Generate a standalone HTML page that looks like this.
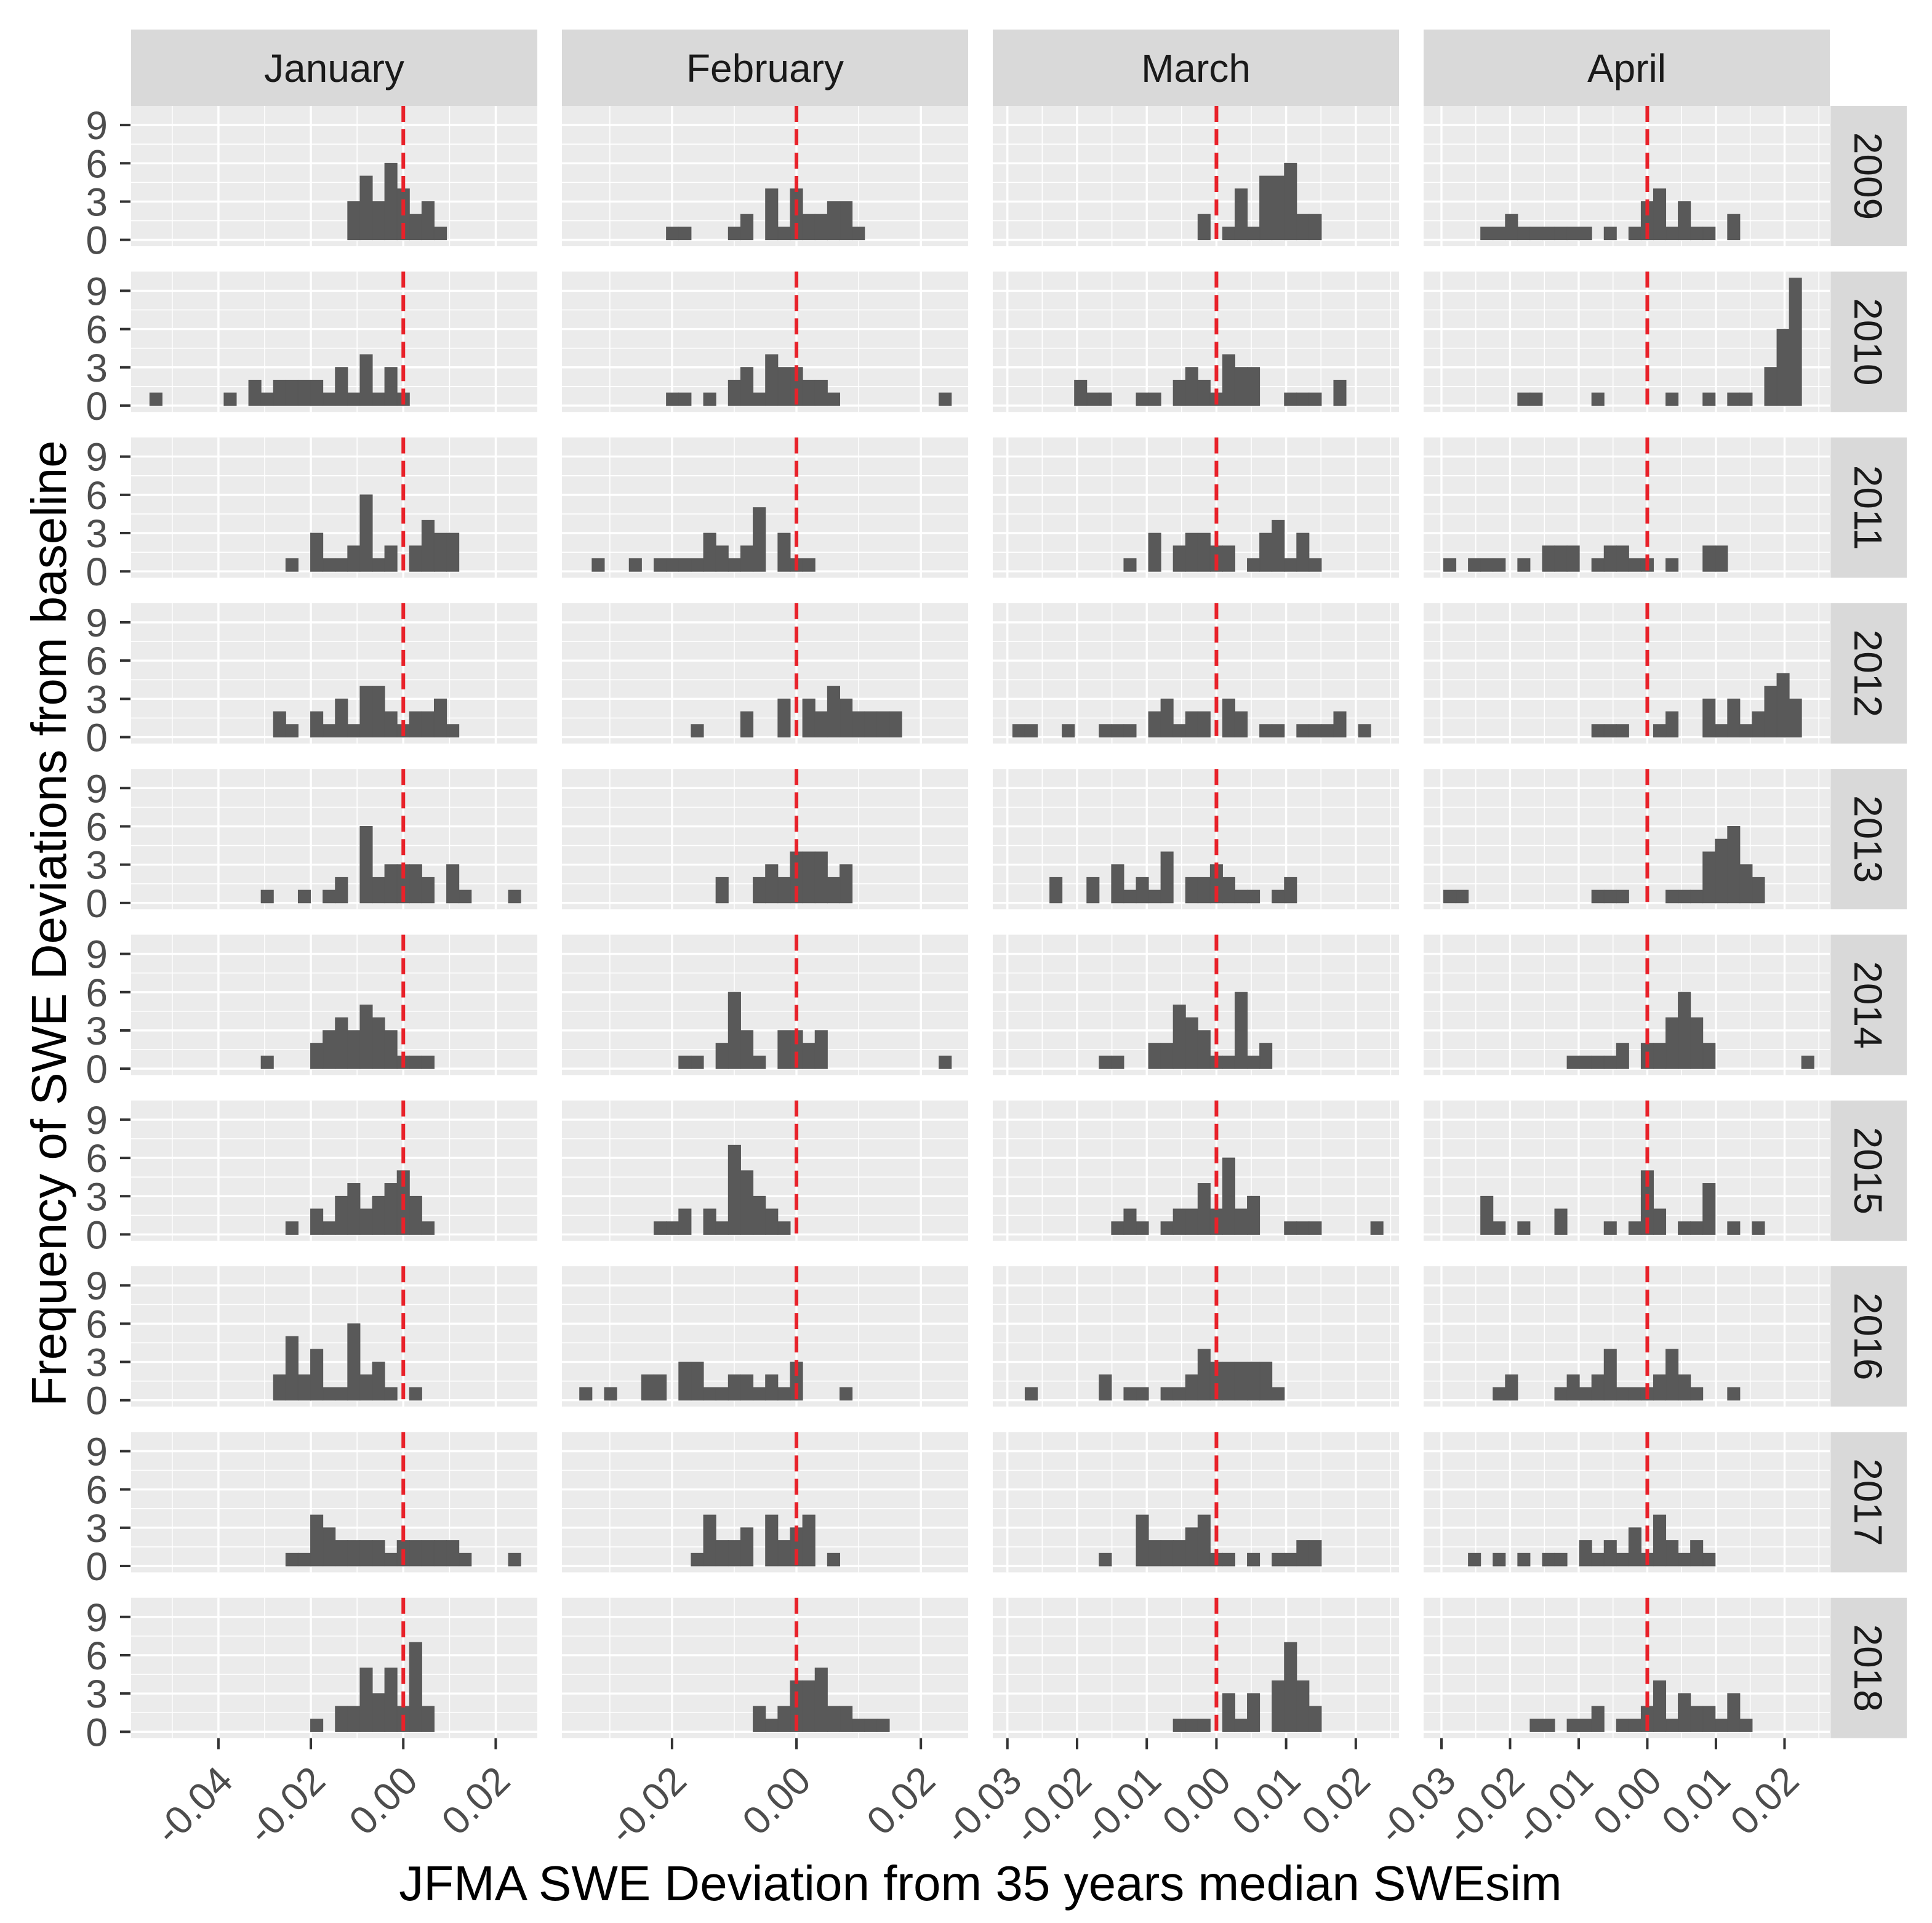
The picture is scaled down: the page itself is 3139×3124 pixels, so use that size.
<!DOCTYPE html>
<html><head><meta charset="utf-8">
<style>
html,body{margin:0;padding:0;background:#fff;}
svg{display:block;font-family:"Liberation Sans",Arial,sans-serif;}
</style></head>
<body>
<svg id="chart" width="3139" height="3124" viewBox="0 0 3139 3124" xmlns="http://www.w3.org/2000/svg">
<rect x="0" y="0" width="3139" height="3124" fill="#ffffff"/>
<text x="1593" y="3087" font-size="80" text-anchor="middle" fill="#000">JFMA SWE Deviation from 35 years median SWEsim</text>
<text transform="translate(107,1500) rotate(-90)" x="0" y="0" font-size="80" text-anchor="middle" fill="#000">Frequency of SWE Deviations from baseline</text>
</svg>
<script>
const months = ["January","February","March","April"];
const years = ["2009","2010","2011","2012","2013","2014","2015","2016","2017","2018"];
const binWidth = [0.002676, 0.001992, 0.001772, 0.001799];
const xDomainMin = [-0.0589, -0.0377, -0.0321, -0.0326];
const xDomainMax = [0.0290, 0.0276, 0.0262, 0.0266];
const xTickValues = [[-0.04,-0.02,0,0.02],[-0.02,0,0.02],[-0.03,-0.02,-0.01,0,0.01,0.02],[-0.03,-0.02,-0.01,0,0.01,0.02]];
const xTickLabels = [["-0.04","-0.02","0.00","0.02"],["-0.02","0.00","0.02"],["-0.03","-0.02","-0.01","0.00","0.01","0.02"],["-0.03","-0.02","-0.01","0.00","0.01","0.02"]];
const xMinorValues = [[-0.05,-0.03,-0.01,0.01],[-0.03,-0.01,0.01],[-0.025,-0.015,-0.005,0.005,0.015,0.025],[-0.025,-0.015,-0.005,0.005,0.015,0.025]];
const yTickValues = [0,3,6,9];
const yTickLabels = ["0","3","6","9"];
const yMinorValues = [1.5,4.5,7.5];
const baselineValue = 0;
// histogram bins: [bin index (center = index*binWidth), count]
const janBins = [
 [[-4,3],[-3,5],[-2,3],[-1,6],[0,4],[1,2],[2,3],[3,1]],
 [[-20,1],[-14,1],[-12,2],[-11,1],[-10,2],[-9,2],[-8,2],[-7,2],[-6,1],[-5,3],[-4,1],[-3,4],[-2,1],[-1,3],[0,1]],
 [[-9,1],[-7,3],[-6,1],[-5,1],[-4,2],[-3,6],[-2,1],[-1,2],[1,2],[2,4],[3,3],[4,3]],
 [[-10,2],[-9,1],[-7,2],[-6,1],[-5,3],[-4,1],[-3,4],[-2,4],[-1,2],[0,1],[1,2],[2,2],[3,3],[4,1]],
 [[-11,1],[-8,1],[-6,1],[-5,2],[-3,6],[-2,2],[-1,3],[0,3],[1,3],[2,2],[4,3],[5,1],[9,1]],
 [[-11,1],[-7,2],[-6,3],[-5,4],[-4,3],[-3,5],[-2,4],[-1,3],[0,1],[1,1],[2,1]],
 [[-9,1],[-7,2],[-6,1],[-5,3],[-4,4],[-3,2],[-2,3],[-1,4],[0,5],[1,3],[2,1]],
 [[-10,2],[-9,5],[-8,2],[-7,4],[-6,1],[-5,1],[-4,6],[-3,2],[-2,3],[-1,1],[1,1]],
 [[-9,1],[-8,1],[-7,4],[-6,3],[-5,2],[-4,2],[-3,2],[-2,2],[-1,1],[0,2],[1,2],[2,2],[3,2],[4,2],[5,1],[9,1]],
 [[-7,1],[-5,2],[-4,2],[-3,5],[-2,3],[-1,5],[0,2],[1,7],[2,2]]
];
const febBins = [
 [[-10,1],[-9,1],[-5,1],[-4,2],[-2,4],[-1,1],[0,4],[1,2],[2,2],[3,3],[4,3],[5,1]],
 [[-10,1],[-9,1],[-7,1],[-5,2],[-4,3],[-3,1],[-2,4],[-1,3],[0,3],[1,2],[2,2],[3,1],[12,1]],
 [[-16,1],[-13,1],[-11,1],[-10,1],[-9,1],[-8,1],[-7,3],[-6,2],[-5,1],[-4,2],[-3,5],[-1,3],[0,1],[1,1]],
 [[-8,1],[-4,2],[-1,3],[1,3],[2,2],[3,4],[4,3],[5,2],[6,2],[7,2],[8,2]],
 [[-6,2],[-3,2],[-2,3],[-1,2],[0,4],[1,4],[2,4],[3,2],[4,3]],
 [[-9,1],[-8,1],[-6,2],[-5,6],[-4,3],[-3,1],[-1,3],[0,3],[1,2],[2,3],[12,1]],
 [[-11,1],[-10,1],[-9,2],[-7,2],[-6,1],[-5,7],[-4,5],[-3,3],[-2,2],[-1,1]],
 [[-17,1],[-15,1],[-12,2],[-11,2],[-9,3],[-8,3],[-7,1],[-6,1],[-5,2],[-4,2],[-3,1],[-2,2],[-1,1],[0,3],[4,1]],
 [[-8,1],[-7,4],[-6,2],[-5,2],[-4,3],[-2,4],[-1,2],[0,3],[1,4],[3,1]],
 [[-3,2],[-2,1],[-1,2],[0,4],[1,4],[2,5],[3,2],[4,2],[5,1],[6,1],[7,1]]
];
const marBins = [
 [[-1,2],[1,1],[2,4],[3,1],[4,5],[5,5],[6,6],[7,2],[8,2]],
 [[-11,2],[-10,1],[-9,1],[-6,1],[-5,1],[-3,2],[-2,3],[-1,2],[0,1],[1,4],[2,3],[3,3],[6,1],[7,1],[8,1],[10,2]],
 [[-7,1],[-5,3],[-3,2],[-2,3],[-1,3],[0,2],[1,2],[3,1],[4,3],[5,4],[6,1],[7,3],[8,1]],
 [[-16,1],[-15,1],[-12,1],[-9,1],[-8,1],[-7,1],[-5,2],[-4,3],[-3,1],[-2,2],[-1,2],[1,3],[2,2],[4,1],[5,1],[7,1],[8,1],[9,1],[10,2],[12,1]],
 [[-13,2],[-10,2],[-8,3],[-7,1],[-6,2],[-5,1],[-4,4],[-2,2],[-1,2],[0,3],[1,2],[2,1],[3,1],[5,1],[6,2]],
 [[-9,1],[-8,1],[-5,2],[-4,2],[-3,5],[-2,4],[-1,3],[0,1],[1,1],[2,6],[3,1],[4,2]],
 [[-8,1],[-7,2],[-6,1],[-4,1],[-3,2],[-2,2],[-1,4],[0,2],[1,6],[2,2],[3,3],[6,1],[7,1],[8,1],[13,1]],
 [[-15,1],[-9,2],[-7,1],[-6,1],[-4,1],[-3,1],[-2,2],[-1,4],[0,3],[1,3],[2,3],[3,3],[4,3],[5,1]],
 [[-9,1],[-6,4],[-5,2],[-4,2],[-3,2],[-2,3],[-1,4],[0,1],[1,1],[3,1],[5,1],[6,1],[7,2],[8,2]],
 [[-3,1],[-2,1],[-1,1],[1,3],[2,1],[3,3],[5,4],[6,7],[7,4],[8,2]]
];
const aprBins = [
 [[-13,1],[-12,1],[-11,2],[-10,1],[-9,1],[-8,1],[-7,1],[-6,1],[-5,1],[-3,1],[-1,1],[0,3],[1,4],[2,1],[3,3],[4,1],[5,1],[7,2]],
 [[-10,1],[-9,1],[-4,1],[2,1],[5,1],[7,1],[8,1],[10,3],[11,6],[12,10]],
 [[-16,1],[-14,1],[-13,1],[-12,1],[-10,1],[-8,2],[-7,2],[-6,2],[-4,1],[-3,2],[-2,2],[-1,1],[0,1],[2,1],[5,2],[6,2]],
 [[-4,1],[-3,1],[-2,1],[1,1],[2,2],[5,3],[6,1],[7,3],[8,1],[9,2],[10,4],[11,5],[12,3]],
 [[-16,1],[-15,1],[-4,1],[-3,1],[-2,1],[2,1],[3,1],[4,1],[5,4],[6,5],[7,6],[8,3],[9,2]],
 [[-6,1],[-5,1],[-4,1],[-3,1],[-2,2],[0,2],[1,2],[2,4],[3,6],[4,4],[5,2],[13,1]],
 [[-13,3],[-12,1],[-10,1],[-7,2],[-3,1],[-1,1],[0,5],[1,2],[3,1],[4,1],[5,4],[7,1],[9,1]],
 [[-12,1],[-11,2],[-7,1],[-6,2],[-5,1],[-4,2],[-3,4],[-2,1],[-1,1],[0,1],[1,2],[2,4],[3,2],[4,1],[7,1]],
 [[-14,1],[-12,1],[-10,1],[-8,1],[-7,1],[-5,2],[-4,1],[-3,2],[-2,1],[-1,3],[0,1],[1,4],[2,2],[3,1],[4,2],[5,1]],
 [[-9,1],[-8,1],[-6,1],[-5,1],[-4,2],[-2,1],[-1,1],[0,2],[1,4],[2,1],[3,3],[4,2],[5,2],[6,1],[7,3],[8,1]]
];
const allBins = [janBins, febBins, marBins, aprBins];

const NS = "http://www.w3.org/2000/svg";
const svg = document.getElementById("chart");
const PX0 = 213, PSTEP = 700, PW = 660;
const PY0 = 172, RSTEP = 269.3, PH = 228;
const Y_MIN = -0.5, Y_MAX = 10.5;
function mk(tag, attrs, parent){ const e=document.createElementNS(NS,tag); for(const k in attrs) e.setAttribute(k,attrs[k]); (parent||svg).appendChild(e); return e; }
function xScale(c, v){ return PX0 + c*PSTEP + (v - xDomainMin[c])/(xDomainMax[c]-xDomainMin[c])*PW; }
function yScale(r, v){ return PY0 + r*RSTEP + (Y_MAX - v)/(Y_MAX - Y_MIN)*PH; }

months.forEach((m,c)=>{
  const g = mk("g",{});
  
  
  mk("rect",{x:PX0+c*PSTEP,y:48,width:PW,height:124,fill:"#d9d9d9"},g);
  const t = mk("text",{x:PX0+c*PSTEP+PW/2,y:133,"font-size":64,"text-anchor":"middle",fill:"#1a1a1a"},g);
  t.textContent = m;
});
years.forEach((yr,r)=>{
  const g = mk("g",{});
  
  
  const top = PY0 + r*RSTEP;
  mk("rect",{x:2974,y:top,width:124,height:PH,fill:"#d9d9d9"},g);
  const t = mk("text",{x:0,y:0,"font-size":64,"text-anchor":"middle",fill:"#1a1a1a",transform:"translate(3013,"+(top+PH/2)+") rotate(90)"},g);
  t.textContent = yr;
});
years.forEach((yr,r)=>{
  months.forEach((m,c)=>{
    const g = mk("g",{});
    
    
    const x0 = PX0 + c*PSTEP, y0 = PY0 + r*RSTEP;
    mk("rect",{x:x0,y:y0,width:PW,height:PH,fill:"#ebebeb"},g);
    yMinorValues.forEach(v=>{ const y=yScale(r,v); mk("line",{x1:x0,x2:x0+PW,y1:y,y2:y,stroke:"#fff","stroke-width":1.6},g); });
    xMinorValues[c].forEach(v=>{ const x=xScale(c,v); if(x>x0&&x<x0+PW) mk("line",{x1:x,x2:x,y1:y0,y2:y0+PH,stroke:"#fff","stroke-width":1.6},g); });
    yTickValues.forEach(v=>{ const y=yScale(r,v); mk("line",{x1:x0,x2:x0+PW,y1:y,y2:y,stroke:"#fff","stroke-width":3.4},g); });
    xTickValues[c].forEach(v=>{ const x=xScale(c,v); mk("line",{x1:x,x2:x,y1:y0,y2:y0+PH,stroke:"#fff","stroke-width":3.4},g); });
    const bins = allBins[c][r];
    const bw = binWidth[c];
    bins.forEach(b=>{
      const center = b[0]*bw;
      const xa = xScale(c, center - bw/2), xb = xScale(c, center + bw/2);
      const ya = yScale(r, b[1]), yb = yScale(r, 0);
      const bar = mk("rect",{x:xa,y:ya,width:xb-xa,height:yb-ya,fill:"#595959",stroke:"#595959","stroke-width":1},g);
      
      
    });
    const zx = xScale(c, baselineValue);
    const ref = mk("line",{x1:zx,x2:zx,y1:y0,y2:y0+PH,stroke:"#e8222a","stroke-width":6,"stroke-dasharray":"26 12"},g);
    
    
  });
  const ya = mk("g",{});
  
  
  yTickValues.forEach((v,i)=>{
    const y = yScale(r,v);
    mk("line",{x1:195,x2:212,y1:y,y2:y,stroke:"#333","stroke-width":4},ya);
    const t = mk("text",{x:175,y:y+23,"font-size":64,"text-anchor":"end",fill:"#4d4d4d"},ya);
    t.textContent = yTickLabels[i];
  });
});
const bottom = PY0 + 9*RSTEP + PH;
months.forEach((m,c)=>{
  const g = mk("g",{});
  
  
  xTickValues[c].forEach((v,i)=>{
    const x = xScale(c,v);
    mk("line",{x1:x,x2:x,y1:bottom,y2:bottom+18,stroke:"#333","stroke-width":4},g);
    const t = mk("text",{x:0,y:0,"font-size":64,"text-anchor":"end",fill:"#4d4d4d",transform:"translate("+(x+27)+","+(bottom+73)+") rotate(-45)"},g);
    t.textContent = xTickLabels[c][i];
  });
});
</script>
</body></html>
